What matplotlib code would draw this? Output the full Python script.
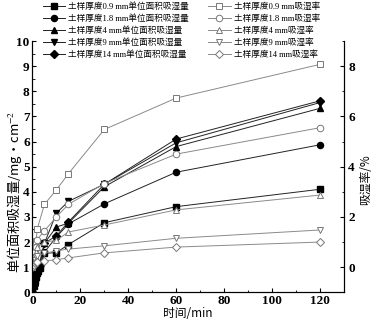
import matplotlib
matplotlib.use("Agg")
import matplotlib.pyplot as plt
from matplotlib.ticker import MultipleLocator

plt.rcParams['font.family'] = ['Liberation Serif', 'Noto Sans CJK SC', 'DejaVu Sans']
plt.rcParams['mathtext.fontset'] = 'stix'

# time points (min)
t_fill = [0, 0.5, 1, 1.5, 2, 2.5, 3, 5, 10, 15, 30, 60, 120]
t_open = [0, 0.5, 1, 1.5, 2, 5, 10, 15, 30, 60, 120]

# moisture absorption per unit area (mg/cm^2), left axis
q_09 = [0, 0.25, 0.45, 0.6, 0.75, 0.85, 0.95, 1.55, 1.58, 1.9, 2.77, 3.41, 4.10]
q_18 = [0, 0.3, 0.5, 0.7, 0.85, 0.95, 1.05, 1.6, 2.2, 2.72, 3.52, 4.78, 5.87]
q_4 = [0, 0.3, 0.55, 0.75, 0.9, 1.0, 1.1, 1.95, 2.6, 2.75, 4.2, 5.8, 7.32]
q_9 = [0, 0.35, 0.6, 0.8, 0.95, 1.05, 1.15, 1.95, 3.15, 3.62, 4.3, 5.95, 7.55]
q_14 = [0, 0.3, 0.55, 0.75, 0.9, 1.0, 1.1, 1.95, 2.25, 2.8, 4.3, 6.1, 7.62]

# moisture absorption rate (%), right axis
r_09 = [0, 0.45, 0.75, 1.05, 1.52, 2.5, 3.08, 3.72, 5.48, 6.73, 8.07]
r_18 = [0, 0.35, 0.6, 0.8, 1.1, 1.45, 2.0, 2.5, 3.33, 4.5, 5.55]
r_4 = [0, 0.25, 0.45, 0.6, 0.8, 1.0, 1.07, 1.4, 1.68, 2.28, 2.87]
r_9 = [0, 0.15, 0.3, 0.4, 0.45, 0.55, 0.65, 0.72, 0.85, 1.15, 1.48]
r_14 = [0, 0.1, 0.15, 0.2, 0.22, 0.25, 0.3, 0.37, 0.57, 0.8, 1.0]

fill_labels = ['土样厚度0.9 mm单位面积吸湿量', '土样厚度1.8 mm单位面积吸湿量',
               '土样厚度4 mm单位面积吸湿量', '土样厚度9 mm单位面积吸湿量',
               '土样厚度14 mm单位面积吸湿量']
open_labels = ['土样厚度0.9 mm吸湿率', '土样厚度1.8 mm吸湿率', '土样厚度4 mm吸湿率',
               '土样厚度9 mm吸湿率', '土样厚度14 mm吸湿率']
markers = ['s', 'o', '^', 'v', 'D']

fig = plt.figure(figsize=(3.73, 3.23), dpi=100)
ax = fig.add_axes([0.087, 0.095, 0.835, 0.778])
ax2 = ax.twinx()

handles = []
for q, m, lab in zip([q_09, q_18, q_4, q_9, q_14], markers, fill_labels):
    ms = 4.4 if m != 'D' else 3.8
    h, = ax.plot(t_fill, q, color='#222222', lw=0.7, marker=m, ms=ms,
                 mfc='black', mec='black', label=lab)
    handles.append(h)
for r, m, lab in zip([r_09, r_18, r_4, r_9, r_14], markers, open_labels):
    ms = 4.7 if m != 'D' else 4.0
    h, = ax2.plot(t_open, r, color='#8a8a8a', lw=0.7, marker=m, ms=ms,
                  mfc='white', mec='#777777', mew=0.7, label=lab)
    handles.append(h)

ax.set_xlim(0, 130)
ax.set_ylim(0, 10)
ax2.set_ylim(-1, 9)
ax.xaxis.set_major_locator(MultipleLocator(20))
ax.xaxis.set_minor_locator(MultipleLocator(10))
ax.yaxis.set_major_locator(MultipleLocator(1))
ax.yaxis.set_minor_locator(MultipleLocator(0.5))
ax2.yaxis.set_major_locator(MultipleLocator(2))
ax2.yaxis.set_minor_locator(MultipleLocator(1))

for a in (ax, ax2):
    a.spines['top'].set_visible(False)
    for s in a.spines.values():
        s.set_linewidth(0.8)
ax.tick_params(axis='both', which='major', direction='in', length=3, width=0.8,
               labelsize=9.5, pad=2)
ax.tick_params(axis='both', which='minor', direction='in', length=1.8, width=0.6)
ax.tick_params(axis='x', which='both', top=False)
ax2.tick_params(axis='y', which='major', direction='in', length=3, width=0.8,
                labelsize=9.5, pad=3)
ax2.tick_params(axis='y', which='minor', direction='in', length=1.8, width=0.6)
for lbl in ax.get_xticklabels() + ax.get_yticklabels() + ax2.get_yticklabels():
    lbl.set_fontweight('bold')

lab_font = ['Noto Sans CJK SC', 'DejaVu Sans']
ax.set_xlabel('时间/min', fontsize=8.5, family=lab_font, labelpad=0)
ax.set_ylabel('单位面积吸湿量/mg·cm$^{-2}$', fontsize=9.5, family=lab_font)
ax.yaxis.set_label_coords(-0.028, 0.40)
ax2.set_ylabel('吸湿率/%', fontsize=8.5, family=lab_font)
ax2.yaxis.set_label_coords(1.05, 0.447)

fig.legend(handles=handles, ncol=2, loc='upper left',
           bbox_to_anchor=(0.105, 1.005), frameon=False, fontsize=6.2,
           handlelength=2.6, handletextpad=0.4, columnspacing=2.2,
           labelspacing=0.4, borderaxespad=0)

fig.savefig('out.png', dpi=100)
